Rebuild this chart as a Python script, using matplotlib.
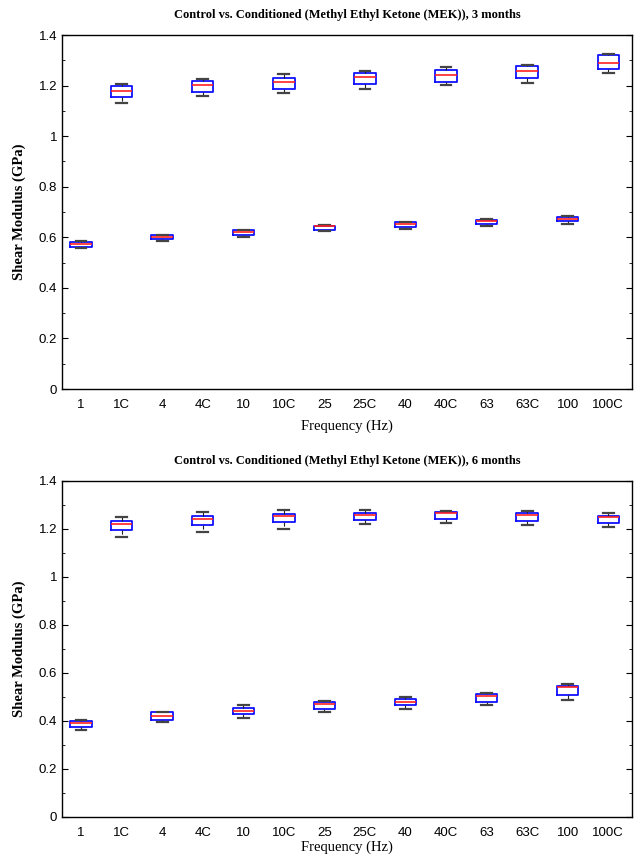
import matplotlib
matplotlib.use('Agg')
from matplotlib import pyplot as plt
from matplotlib.ticker import MultipleLocator, FormatStrFormatter

labels = ['1', '1C', '4', '4C', '10', '10C', '25', '25C', '40', '40C', '63', '63C', '100', '100C']

# 3 months: lower cap, q1, median, q3, upper cap
lo_3 = [0.557, 1.133, 0.585, 1.157, 0.602, 1.170, 0.626, 1.188, 0.634, 1.203, 0.643, 1.211, 0.653, 1.250]
q1_3 = [0.562, 1.154, 0.592, 1.174, 0.611, 1.186, 0.628, 1.205, 0.641, 1.215, 0.651, 1.228, 0.664, 1.265]
med_3 = [0.573, 1.179, 0.600, 1.202, 0.619, 1.213, 0.643, 1.232, 0.652, 1.241, 0.666, 1.256, 0.673, 1.291]
q3_3 = [0.582, 1.199, 0.609, 1.217, 0.627, 1.230, 0.645, 1.250, 0.660, 1.263, 0.669, 1.278, 0.681, 1.320]
hi_3 = [0.585, 1.208, 0.610, 1.225, 0.629, 1.244, 0.648, 1.258, 0.662, 1.273, 0.671, 1.281, 0.683, 1.323]

# 6 months
lo_6 = [0.361, 1.168, 0.394, 1.186, 0.414, 1.201, 0.439, 1.221, 0.449, 1.225, 0.468, 1.215, 0.488, 1.207]
q1_6 = [0.374, 1.196, 0.404, 1.215, 0.428, 1.231, 0.451, 1.237, 0.467, 1.240, 0.480, 1.235, 0.507, 1.224]
med_6 = [0.390, 1.221, 0.421, 1.240, 0.443, 1.254, 0.471, 1.258, 0.478, 1.265, 0.503, 1.259, 0.543, 1.249]
q3_6 = [0.400, 1.233, 0.436, 1.254, 0.455, 1.263, 0.479, 1.268, 0.493, 1.272, 0.511, 1.265, 0.547, 1.255]
hi_6 = [0.404, 1.251, 0.438, 1.271, 0.465, 1.279, 0.485, 1.280, 0.499, 1.275, 0.515, 1.275, 0.555, 1.267]

serif = ['Liberation Serif', 'DejaVu Serif']


def draw(ax, lo, q1, med, q3, hi, title, xpad):
    stats = []
    for i in range(len(labels)):
        stats.append(dict(whislo=lo[i], q1=q1[i], med=med[i], q3=q3[i], whishi=hi[i], fliers=[]))
    ax.bxp(stats, positions=list(range(1, len(labels) + 1)), widths=0.53, showfliers=False,
           boxprops=dict(color='#1010ff', linewidth=1.3),
           medianprops=dict(color='#ff2020', linewidth=1.2),
           whiskerprops=dict(color='#222222', linewidth=0.8, linestyle='--'),
           capprops=dict(color='#444444', linewidth=1.6))
    ax.set_xlim(0.53, 14.59)
    ax.set_ylim(0, 1.4)
    ax.set_xticks(range(1, len(labels) + 1))
    ax.set_xticklabels(labels)
    ax.yaxis.set_major_locator(MultipleLocator(0.2))
    ax.yaxis.set_minor_locator(MultipleLocator(0.1))
    ax.yaxis.set_major_formatter(FormatStrFormatter('%g'))
    ax.tick_params(axis='x', length=0, pad=7, labelsize=9.5)
    ax.tick_params(axis='y', which='both', direction='in', left=True, right=True, labelsize=9.5)
    ax.tick_params(axis='y', which='major', length=4)
    ax.tick_params(axis='y', which='minor', length=2.5)
    for lab in ax.get_xticklabels() + ax.get_yticklabels():
        lab.set_family(['Liberation Sans Narrow', 'Liberation Sans', 'DejaVu Sans'])
    for sp in ax.spines.values():
        sp.set_linewidth(1.0)
    ax.set_title(title, family=serif, fontweight='bold', fontsize=9, pad=12)
    ax.set_xlabel('Frequency (Hz)', family=serif, fontsize=10.5, labelpad=xpad)
    ax.set_ylabel('Shear Modulus (GPa)', family=serif, fontweight='bold', fontsize=10.5, labelpad=9)


fig = plt.figure(figsize=(6.35, 8.58), dpi=100)
ax1 = fig.add_axes([0.0976, 0.5466, 0.898, 0.4126])
ax2 = fig.add_axes([0.0976, 0.0478, 0.898, 0.3916])

draw(ax1, lo_3, q1_3, med_3, q3_3, hi_3, 'Control vs. Conditioned (Methyl Ethyl Ketone (MEK)), 3 months', 6)
draw(ax2, lo_6, q1_6, med_6, q3_6, hi_6, 'Control vs. Conditioned (Methyl Ethyl Ketone (MEK)), 6 months', 1)

fig.savefig('out.png', dpi=100)
